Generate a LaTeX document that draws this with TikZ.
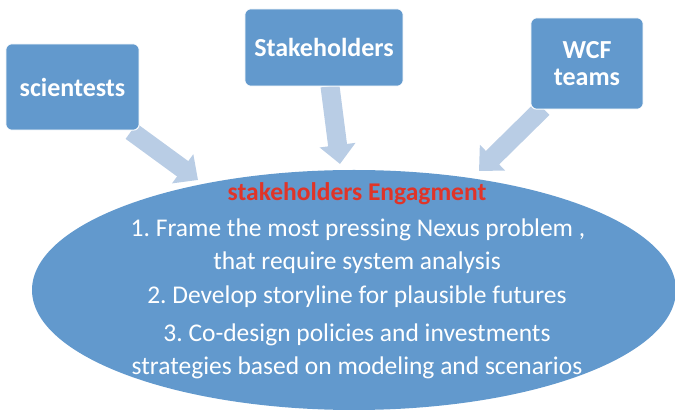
\documentclass[tikz,border=0pt]{standalone}
\usepackage{fontspec}
\setmainfont{Carlito}
\usetikzlibrary{shapes.geometric,arrows.meta,calc}
\definecolor{boxblue}{RGB}{98,153,205}
\definecolor{arrowblue}{RGB}{185,205,229}
\definecolor{titlered}{RGB}{224,52,40}
\frenchspacing
\tikzset{
  box/.style={fill=boxblue, draw=white, line width=1pt, rounded corners=6pt, inner sep=0pt},
  boxtext/.style={text=white, font=\fontsize{26}{27}\selectfont\bfseries, align=center},
  blockarrow/.style={draw=arrowblue, line width=19pt, -{Triangle[width=35pt,length=19pt]}},
  ellline/.style={text=white, font=\fontsize{25.5}{27}\selectfont, anchor=base},
}
\begin{document}
\begin{tikzpicture}[x=1pt,y=-1pt]
\useasboundingbox (0,0) rectangle (675,411);
\node[minimum width=133pt, minimum height=86pt, inner sep=0pt] (sci) at (72.5,87) {};
\node[minimum width=158pt, minimum height=77pt, inner sep=0pt] (stk) at (324,47.5) {};
\node[minimum width=112pt, minimum height=91pt, inner sep=0pt] (wcf) at (587,63.5) {};
\coordinate (t1) at (198,180);
\coordinate (t2) at (340,164);
\coordinate (t3) at (479,171);
\draw[blockarrow] ($(sci.south east)+(-8,1)$) -- (t1);
\draw[blockarrow] ($(stk.south)+(6,0)$) -- (t2);
\draw[blockarrow] ($(wcf.south west)+(12,-1)$) -- (t3);
\node[ellipse, fill=boxblue, minimum width=644pt, minimum height=240pt, inner sep=0pt] (eng) at (354,290) {};
\path[box] (sci.north west) rectangle (sci.south east);
\path[box] (stk.north west) rectangle (stk.south east);
\path[box] (wcf.north west) rectangle (wcf.south east);
\node[boxtext] (scit) at (sci.center) {scientests};
\node[boxtext] (stkt) at (stk.center) {Stakeholders};
\node[boxtext] (wcft) at (wcf.center) {WCF\\teams};
\node[ellline, text=titlered, font=\fontsize{25.5}{27}\selectfont\bfseries] (title) at (357,201) {stakeholders Engagment};
\node[ellline] (l1) at (358,237) {1. Frame the most pressing Nexus problem ,};
\node[ellline] (l2) at (357,270) {that require system analysis};
\node[ellline] (l3) at (357,304) {2. Develop storyline for plausible futures};
\node[ellline] (l4) at (357,342) {3. Co-design policies and investments};
\node[ellline] (l5) at (357,375) {strategies based on modeling and scenarios};
\end{tikzpicture}
\end{document}
